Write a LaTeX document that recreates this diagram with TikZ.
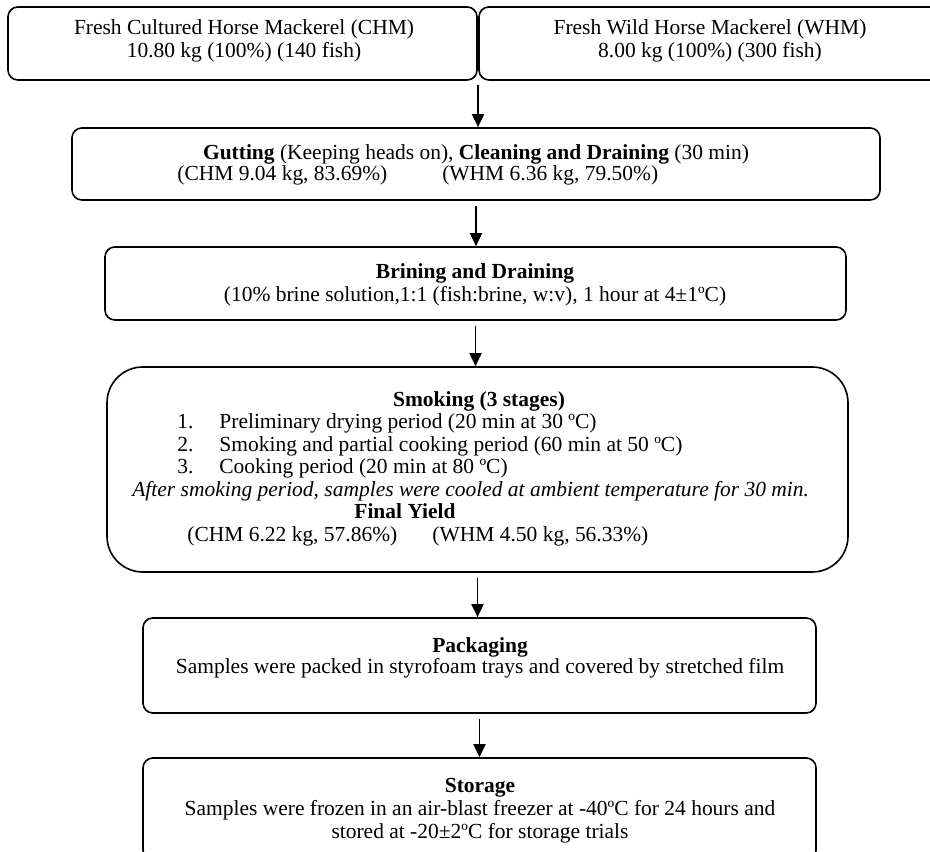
\documentclass[tikz,border=0pt]{standalone}
\usepackage{fontspec}
\setmainfont{Liberation Serif}
\usetikzlibrary{arrows.meta,fit}

\tikzset{
  stage/.style={draw, line width=0.9pt, rounded corners=5.5pt, inner sep=0pt},
  txt/.style={anchor=base, inner sep=0pt, font=\fontsize{12}{14}\selectfont},
  txtl/.style={txt, anchor=base west},
  flow/.style={-{Triangle[length=7.3pt,width=6.7pt]}, line width=1.1pt, shorten <=2.8pt}
}

\begin{document}
\begin{tikzpicture}[x=0.5587pt, y=-0.5587pt]
  \useasboundingbox (0,0) rectangle (930,852);

  % Fresh fish
  \node[stage, fit={(8,7) (477,80)}] (chm) {};
  \node[stage, fit={(479,7) (941,80)}] (whm) {};
  \node[txt] (chmA) at (244,35) {Fresh Cultured Horse Mackerel (CHM)};
  \node[txt] (chmB) at (244,58) {10.80 kg (100\%) (140 fish)};
  \node[txt] (whmA) at (710,35) {Fresh Wild Horse Mackerel (WHM)};
  \node[txt] (whmB) at (710,58) {8.00 kg (100\%) (300 fish)};

  % Gutting
  \node[stage, fit={(72,128) (880,200)}] (gut) {};
  \node[txt] (gutA) at (476,160) {\textbf{Gutting} (Keeping heads on), \textbf{Cleaning and Draining} (30 min)};
  \node[txtl] (gutB) at (177,181) {(CHM 9.04 kg, 83.69\%)\hspace{30.7pt}(WHM 6.36 kg, 79.50\%)};

  % Brining
  \node[stage, fit={(105,247) (846,320)}] (brine) {};
  \node[txt] (brineA) at (475,279) {\textbf{Brining and Draining}};
  \node[txt] (brineB) at (475,302) {(10\% brine solution,1:1 (fish:brine, w:v), 1 hour at 4±1ºC)};

  % Smoking
  \node[stage, rounded corners=20pt, fit={(107,367) (848,572)}] (smoke) {};
  \node[txt] (smokeA) at (479,407) {\textbf{Smoking (3 stages)}};
  \node[txtl] (smokeB) at (177,429) {\makebox[23.5pt][l]{1.}Preliminary drying period (20 min at 30 ºC)};
  \node[txtl] (smokeC) at (177,452) {\makebox[23.5pt][l]{2.}Smoking and partial cooking period (60 min at 50 ºC)};
  \node[txtl] (smokeD) at (177,474) {\makebox[23.5pt][l]{3.}Cooking period (20 min at 80 ºC)};
  \node[txtl] (smokeE) at (132,497) {\textit{After smoking period, samples were cooled at ambient temperature for 30 min.}};
  \node[txt] (smokeF) at (405,519) {\textbf{Final Yield}};
  \node[txtl] (smokeG) at (187,542) {(CHM 6.22 kg, 57.86\%)\hspace{19.6pt}(WHM 4.50 kg, 56.33\%)};

  % Packaging
  \node[stage, fit={(143,618) (816,713)}] (pack) {};
  \node[txt] (packA) at (480,652) {\textbf{Packaging}};
  \node[txt] (packB) at (480,674) {Samples were packed in styrofoam trays and covered by stretched film};

  % Storage
  \node[stage, fit={(143,758) (816,860)}] (store) {};
  \node[txt] (storeA) at (480,792) {\textbf{Storage}};
  \node[txt] (storeB) at (480,815) {Samples were frozen in an air-blast freezer at -40ºC for 24 hours and};
  \node[txt] (storeC) at (480,838) {stored at -20±2ºC for storage trials};

  % Arrows
  \coordinate (split) at (478,80);
  \draw[flow] (split) -- (split |- gut.north);
  \draw[flow] (gut.south) -- (gut.south |- brine.north);
  \draw[flow] (brine.south) -- (brine.south |- smoke.north);
  \draw[flow] (smoke.south) -- (smoke.south |- pack.north);
  \draw[flow] (pack.south) -- (pack.south |- store.north);
\end{tikzpicture}
\end{document}
